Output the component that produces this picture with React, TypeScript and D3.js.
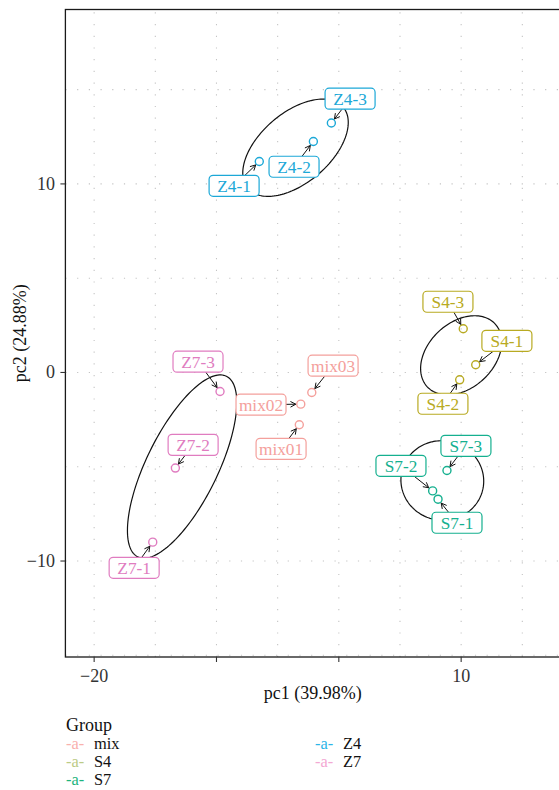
import React from "react";
import * as d3 from "d3";

// ---- data ----
const groups = ["mix", "S4", "S7", "Z4", "Z7"];
const groupColors = ["#F4A09C", "#B8AA22", "#15B08F", "#1CA8D7", "#E07CC0"];
const legendKeyColors = ["#F9B1AD", "#BCCB86", "#1EB47C", "#2DB5E8", "#F3A9D3"];

const sampleNames = [
  "Z4-1", "Z4-2", "Z4-3",
  "S4-1", "S4-2", "S4-3",
  "S7-1", "S7-2", "S7-3",
  "Z7-1", "Z7-2", "Z7-3",
  "mix01", "mix02", "mix03",
];
const sampleGroup = [
  "Z4", "Z4", "Z4",
  "S4", "S4", "S4",
  "S7", "S7", "S7",
  "Z7", "Z7", "Z7",
  "mix", "mix", "mix",
];
const pc1 = [-6.5, -2.08, -0.61, 11.19, 9.88, 10.17, 8.11, 7.67, 8.84, -15.21, -13.36, -9.71, -3.23, -3.11, -2.21];
const pc2 = [11.19, 12.25, 13.23, 0.41, -0.39, 2.32, -6.72, -6.28, -5.2, -9.0, -5.07, -1.01, -2.77, -1.68, -1.06];

// repelled label positions (data units)
const labelPc1 = [-8.56, -3.66, 0.92, 13.74, 8.51, 8.92, 9.66, 5.08, 10.39, -16.73, -11.91, -11.51, -4.72, -6.36, -0.47];
const labelPc2 = [9.9, 10.91, 14.52, 1.68, -1.66, 3.75, -7.97, -4.95, -3.89, -10.36, -3.84, 0.57, -4.05, -1.71, 0.36];

// ellipse per group: centre and parametric coefficients (data units)
const ellipseGroups = ["Z4", "Z7", "S4", "S7"];
const ellipseCx = [-3.54, -12.81, 10.0, 8.46];
const ellipseCy = [11.92, -4.99, 0.91, -5.73];
const ellipseXcos = [3.89, 3.62, 2.77, 3.3];
const ellipseXsin = [-1.86, -2.62, -1.82, 0.75];
const ellipseYcos = [2.16, 4.79, 1.67, -0.5];
const ellipseYsin = [1.41, 0.83, 1.27, 2.05];

const xTicks = [-20, -10, 0, 10];
const xTickLabels = ["\u221220", "", "", "10"];
const yTicks = [-10, 0, 10];
const yTickLabels = ["\u221210", "0", "10"];
const xGrid = [-20, -15, -10, -5, 0, 5, 10, 15];
const yGrid = [-15, -10, -5, 0, 5, 10, 15];

const xTitle = "pc1 (39.98%)";
const yTitle = "pc2 (24.88%)";
const legendTitle = "Group";

// ---- layout ----
const W = 559;
const H = 790;
const panel = { left: 65.4, right: 560, top: 9.5, bottom: 657 };
const FONT = "'Liberation Serif', 'Times New Roman', serif";
const FS = 18;
const LFS = 17.3;
const LEGFS = 15.6;

export default function App() {
  const x = d3.scaleLinear().domain([-22.35, 18.08]).range([panel.left, panel.right]);
  const y = d3.scaleLinear().domain([-15.09, 19.25]).range([panel.bottom, panel.top]);
  const color = d3.scaleOrdinal<string, string>().domain(groups).range(groupColors);

  const ts = d3.range(0, 2 * Math.PI, (2 * Math.PI) / 160);
  const line = d3
    .line<[number, number]>()
    .x((d) => x(d[0]))
    .y((d) => y(d[1]))
    .curve(d3.curveLinearClosed);

  const boxW = 50;
  const boxH = 21;

  const segs = sampleNames.map((name, i) => {
    const px = x(pc1[i]);
    const py = y(pc2[i]);
    const lx = x(labelPc1[i]);
    const ly = y(labelPc2[i]);
    const dx = px - lx;
    const dy = py - ly;
    const t = Math.min(
      dx === 0 ? Infinity : boxW / 2 / Math.abs(dx),
      dy === 0 ? Infinity : boxH / 2 / Math.abs(dy)
    );
    const sx = lx + t * dx;
    const sy = ly + t * dy;
    const len = Math.hypot(px - sx, py - sy);
    const ux = (px - sx) / len;
    const uy = (py - sy) / len;
    const ex = px - ux * 5;
    const ey = py - uy * 5;
    const ah = 6;
    const ang = (28 * Math.PI) / 180;
    const rot = (a: number) => [
      ex - ah * (ux * Math.cos(a) - uy * Math.sin(a)),
      ey - ah * (ux * Math.sin(a) + uy * Math.cos(a)),
    ];
    const h1 = rot(ang);
    const h2 = rot(-ang);
    return { sx, sy, ex, ey, h1, h2, ok: len > 8 };
  });

  return (
    <svg
      width={W}
      height={H}
      style={{ position: "absolute", left: 0, top: 0, background: "#fff" }}
      fontFamily={FONT}
    >
      <defs>
        <clipPath id="panelClip">
          <rect x={panel.left} y={panel.top} width={panel.right - panel.left} height={panel.bottom - panel.top} />
        </clipPath>
      </defs>
      <rect x={0} y={0} width={W} height={H} fill="#fff" />
      {/* grid */}
      <g stroke="#c4c4c4" strokeWidth={1.1} strokeDasharray="1.2 10.5" clipPath="url(#panelClip)">
        {xGrid.map((g) => (
          <line key={"xg" + g} x1={x(g)} x2={x(g)} y1={panel.bottom} y2={panel.top} />
        ))}
        {yGrid.map((g) => (
          <line key={"yg" + g} x1={panel.left} x2={panel.right} y1={y(g)} y2={y(g)} />
        ))}
      </g>

      {/* ellipses */}
      <g clipPath="url(#panelClip)">
        {ellipseGroups.map((g, k) => {
          const pts = ts.map(
            (t) =>
              [
                ellipseCx[k] + ellipseXcos[k] * Math.cos(t) + ellipseXsin[k] * Math.sin(t),
                ellipseCy[k] + ellipseYcos[k] * Math.cos(t) + ellipseYsin[k] * Math.sin(t),
              ] as [number, number]
          );
          return <path key={g} d={line(pts) || ""} fill="none" stroke="#111" strokeWidth={1.2} />;
        })}
      </g>

      {/* points */}
      <g>
        {sampleNames.map((n, i) => (
          <circle
            key={n}
            cx={x(pc1[i])}
            cy={y(pc2[i])}
            r={4}
            fill="none"
            stroke={color(sampleGroup[i])}
            strokeWidth={1.4}
          />
        ))}
      </g>

      {/* segments */}
      <g stroke="#111" strokeWidth={1} fill="none">
        {segs.map((s, i) =>
          s.ok ? (
            <g key={"s" + i}>
              <line x1={s.sx} y1={s.sy} x2={s.ex} y2={s.ey} />
              <polyline points={`${s.h1[0]},${s.h1[1]} ${s.ex},${s.ey} ${s.h2[0]},${s.h2[1]}`} />
            </g>
          ) : null
        )}
      </g>

      {/* labels */}
      <g>
        {sampleNames.map((n, i) => {
          const lx = x(labelPc1[i]);
          const ly = y(labelPc2[i]);
          const c = color(sampleGroup[i]);
          return (
            <g key={"l" + n}>
              <rect
                x={lx - boxW / 2}
                y={ly - boxH / 2}
                width={boxW}
                height={boxH}
                rx={4}
                ry={4}
                fill="#fff"
                stroke={c}
                strokeWidth={1.2}
              />
              <text x={lx} y={ly + 5.9} textAnchor="middle" fontSize={LFS} fill={c}>
                {n}
              </text>
            </g>
          );
        })}
      </g>

      {/* panel border */}
      <rect
        x={panel.left}
        y={panel.top}
        width={panel.right - panel.left}
        height={panel.bottom - panel.top}
        fill="none"
        stroke="#1a1a1a"
        strokeWidth={1.3}
      />

      {/* axes */}
      <g stroke="#333" strokeWidth={1.1}>
        {xTicks.map((t) => (
          <line key={"xt" + t} x1={x(t)} x2={x(t)} y1={panel.bottom} y2={panel.bottom + 5} />
        ))}
        {yTicks.map((t) => (
          <line key={"yt" + t} x1={panel.left - 5} x2={panel.left} y1={y(t)} y2={y(t)} />
        ))}
      </g>
      <g fontSize={FS} fill="#333">
        {xTicks.map((t, i) => (
          <text key={"xl" + t} x={x(t)} y={682} textAnchor="middle">
            {xTickLabels[i]}
          </text>
        ))}
        {yTicks.map((t, i) => (
          <text key={"yl" + t} x={55} y={y(t) + 6} textAnchor="end">
            {yTickLabels[i]}
          </text>
        ))}
      </g>
      <text x={(panel.left + panel.right) / 2} y={699} textAnchor="middle" fontSize={FS} fill="#111">
        {xTitle}
      </text>
      <text
        transform={`translate(26, ${(panel.top + panel.bottom) / 2}) rotate(-90)`}
        textAnchor="middle"
        fontSize={FS}
        fill="#111"
      >
        {yTitle}
      </text>

      {/* legend */}
      <text x={66} y={731} fontSize={FS} fill="#111">
        {legendTitle}
      </text>
      {groups.map((g, i) => {
        const col = Math.floor(i / 3);
        const row = i % 3;
        const kx = col === 0 ? 66 : 315;
        const by = 749 + row * 18;
        return (
          <g key={"lg" + g}>
            <text x={kx} y={by} fontSize={LEGFS + 0.8} fill={legendKeyColors[i]}>
              -a-
            </text>
            <text x={kx + 28} y={by} fontSize={LEGFS + 0.8} fill="#111">
              {g}
            </text>
          </g>
        );
      })}
    </svg>
  );
}
